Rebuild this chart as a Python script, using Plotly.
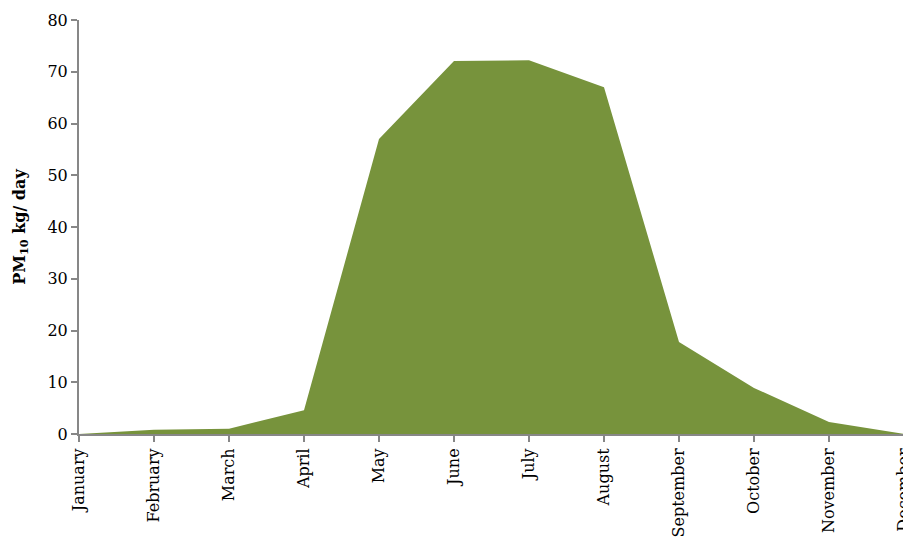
import plotly.graph_objects as go

months = ["January", "February", "March", "April", "May", "June", "July",
          "August", "September", "October", "November", "December"]
pm10 = [0.0, 0.8, 1.0, 4.6, 57.0, 72.1, 72.2, 67.0, 17.8, 8.9, 2.3, 0.0]
y_ticks = [0, 10, 20, 30, 40, 50, 60, 70, 80]

font_family = "DejaVu Serif"

fig = go.Figure()
fig.add_trace(go.Scatter(
    x=months, y=pm10, mode="lines", fill="tozeroy",
    fillcolor="#77933C", line=dict(color="#77933C", width=0),
    hoverinfo="x+y", showlegend=False,
))

# page body adds an 8px margin, so the figure is sized/placed to compensate
fig.update_layout(
    width=903, height=529,
    margin=dict(l=71, r=7, t=12, b=103),
    paper_bgcolor="white", plot_bgcolor="white",
    font=dict(family=font_family, size=16, color="black"),
    xaxis=dict(
        type="category", range=[0, 11], showgrid=False, zeroline=False,
        showline=True, linecolor="#878787", linewidth=2,
        ticks="outside", ticklen=6, tickcolor="#878787", tickwidth=2,
        tickangle=-90, tickfont=dict(family=font_family, size=16),
        automargin=False,
    ),
    yaxis=dict(
        range=[0, 80], tickvals=y_ticks, showgrid=False, zeroline=False,
        showline=True, linecolor="#878787", linewidth=2,
        ticks="outside", ticklen=6, tickcolor="#878787", tickwidth=2,
        tickfont=dict(family=font_family, size=16),
        automargin=False,
        title=dict(text="<b>PM<sub>10</sub> kg/ day</b>",
                   font=dict(family=font_family, size=16), standoff=18),
    ),
)

fig.write_html("out.html")
